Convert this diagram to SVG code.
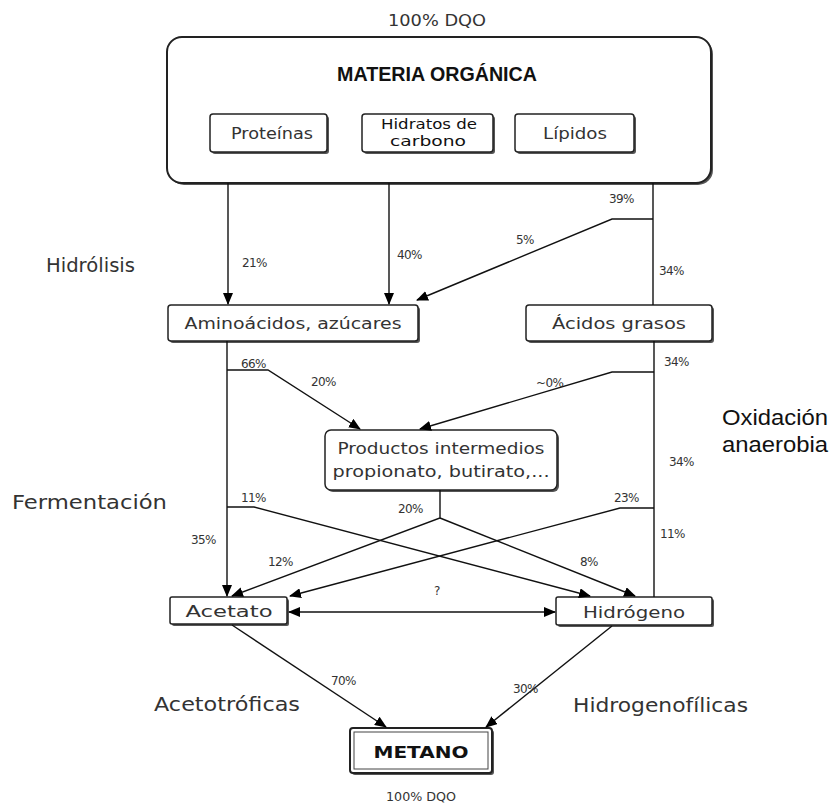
<svg xmlns="http://www.w3.org/2000/svg" width="834" height="806" viewBox="0 0 834 806">
<defs>
<marker id="ah" markerWidth="12" markerHeight="10" refX="11" refY="5" orient="auto" markerUnits="userSpaceOnUse">
<path d="M0,0 L12,5 L0,10 Z" fill="#000"/>
</marker>
<marker id="ahs" markerWidth="12" markerHeight="10" refX="1" refY="5" orient="auto" markerUnits="userSpaceOnUse">
<path d="M12,0 L0,5 L12,10 Z" fill="#000"/>
</marker>
<style>
.box{fill:#fff;stroke:#222;stroke-width:1.5}
.sh{fill:#555}
.t{font-family:"DejaVu Sans","Liberation Sans",sans-serif;fill:#333;text-anchor:middle}
.n{font-size:16px}
.p{font-family:"DejaVu Sans","Liberation Sans",sans-serif;font-size:12px;fill:#333;letter-spacing:-0.6px}
.lab{font-family:"DejaVu Sans","Liberation Sans",sans-serif;font-size:19px;fill:#333}
.ar{font-family:"Liberation Sans",Arial,sans-serif;font-size:22px;fill:#111}
.c{fill:none;stroke:#111;stroke-width:1.4}
</style>
</defs>
<rect width="834" height="806" fill="#fff"/>

<text class="t" x="437" y="26" style="font-size:16px" textLength="98" lengthAdjust="spacingAndGlyphs">100% DQO</text>

<g id="materia">
<rect class="sh" x="169" y="39" width="544" height="146" rx="15"/>
<rect class="box" x="167" y="37" width="544" height="146" rx="15" style="stroke-width:2"/>
<text x="437" y="81" style="font-family:'Liberation Sans',Arial,sans-serif;font-size:21px;font-weight:bold;fill:#111;text-anchor:middle" textLength="200" lengthAdjust="spacingAndGlyphs">MATERIA ORGÁNICA</text>
</g>
<g id="proteinas">
<rect class="sh" x="212" y="116" width="117" height="38" rx="3"/>
<rect class="box" x="210" y="114" width="117" height="38" rx="3"/>
<text class="t n" x="272" y="139" textLength="82" lengthAdjust="spacingAndGlyphs">Proteínas</text>
</g>
<g id="hidratos">
<rect class="sh" x="364" y="116" width="131" height="38" rx="3"/>
<rect class="box" x="362" y="114" width="131" height="38" rx="3"/>
<text class="t" x="429" y="129" style="font-size:14px;fill:#111" textLength="96" lengthAdjust="spacingAndGlyphs">Hidratos de</text>
<text class="t" x="428" y="146" style="font-size:14px;fill:#111" textLength="76" lengthAdjust="spacingAndGlyphs">carbono</text>
</g>
<g id="lipidos">
<rect class="sh" x="517" y="116" width="119" height="38" rx="3"/>
<rect class="box" x="515" y="114" width="119" height="38" rx="3"/>
<text class="t n" x="575" y="139" textLength="64" lengthAdjust="spacingAndGlyphs">Lípidos</text>
</g>

<g id="aminoacidos">
<rect class="sh" x="170" y="307" width="250" height="36" rx="3"/>
<rect class="box" x="168" y="305" width="250" height="36" rx="3"/>
<text class="t n" x="293" y="329" textLength="217" lengthAdjust="spacingAndGlyphs">Aminoácidos, azúcares</text>
</g>
<g id="acidos">
<rect class="sh" x="528" y="307" width="186" height="36" rx="3"/>
<rect class="box" x="526" y="305" width="186" height="36" rx="3"/>
<text class="t n" x="619" y="329" textLength="134" lengthAdjust="spacingAndGlyphs">Ácidos grasos</text>
</g>
<g id="productos">
<rect class="sh" x="327" y="432" width="232" height="60" rx="6"/>
<rect class="box" x="325" y="430" width="232" height="60" rx="6"/>
<text class="t n" x="441" y="454" textLength="207" lengthAdjust="spacingAndGlyphs">Productos intermedios</text>
<text class="t n" x="441" y="477" textLength="217" lengthAdjust="spacingAndGlyphs">propionato, butirato,...</text>
</g>
<g id="acetato">
<rect class="sh" x="172" y="599" width="117" height="27" rx="2"/>
<rect class="box" x="170" y="597" width="117" height="27" rx="2"/>
<text class="t n" x="229" y="617" textLength="87" lengthAdjust="spacingAndGlyphs">Acetato</text>
</g>
<g id="hidrogeno">
<rect class="sh" x="558" y="599" width="156" height="28" rx="2"/>
<rect class="box" x="556" y="597" width="156" height="28" rx="2"/>
<text class="t n" x="634" y="618" textLength="102" lengthAdjust="spacingAndGlyphs">Hidrógeno</text>
</g>
<g id="metano">
<rect class="sh" x="352" y="730" width="142" height="45" rx="3"/>
<rect class="box" x="350" y="728" width="142" height="45" rx="3" style="stroke-width:2"/>
<rect x="354" y="732" width="134" height="37" fill="none" stroke="#444" stroke-width="1"/>
<text x="421" y="758" style="font-family:'DejaVu Sans',sans-serif;font-size:16px;font-weight:bold;fill:#111;text-anchor:middle" textLength="95" lengthAdjust="spacingAndGlyphs">METANO</text>
</g>
<text class="t" x="421" y="801" style="font-size:13px" textLength="70" lengthAdjust="spacingAndGlyphs">100% DQO</text>

<g id="connectors">
<line class="c" x1="228" y1="183" x2="228" y2="304" marker-end="url(#ah)"/>
<line class="c" x1="389" y1="183" x2="389" y2="304" marker-end="url(#ah)"/>
<line class="c" x1="653" y1="183" x2="653" y2="305"/>
<polyline class="c" points="653,219 612,219 417,300" marker-end="url(#ah)"/>

<line class="c" x1="227" y1="341" x2="227" y2="596" marker-end="url(#ah)"/>
<polyline class="c" points="227,370 268,370 360,429" marker-end="url(#ah)"/>
<line class="c" x1="654" y1="341" x2="654" y2="597"/>
<polyline class="c" points="654,372 612,372 420,429" marker-end="url(#ah)"/>

<polyline class="c" points="440,490 440,518 232,596" marker-end="url(#ah)"/>
<polyline class="c" points="440,518 635,596" marker-end="url(#ah)"/>
<polyline class="c" points="227,507 254,507 590,596" marker-end="url(#ah)"/>
<polyline class="c" points="654,508 620,508 290,596" marker-end="url(#ah)"/>

<line class="c" x1="289" y1="612" x2="555" y2="612" marker-start="url(#ahs)" marker-end="url(#ah)"/>

<line class="c" x1="232" y1="625" x2="386" y2="727" marker-end="url(#ah)"/>
<line class="c" x1="612" y1="626" x2="486" y2="727" marker-end="url(#ah)"/>
</g>

<g id="labels">
<text class="p" x="242" y="267">21%</text>
<text class="p" x="397" y="259">40%</text>
<text class="p" x="609" y="203">39%</text>
<text class="p" x="516" y="244">5%</text>
<text class="p" x="659" y="275">34%</text>
<text class="p" x="241" y="368">66%</text>
<text class="p" x="311" y="386">20%</text>
<text class="p" x="664" y="366">34%</text>
<text class="p" x="536" y="387">~0%</text>
<text class="p" x="669" y="466">34%</text>
<text class="p" x="241" y="502">11%</text>
<text class="p" x="398" y="513">20%</text>
<text class="p" x="614" y="502">23%</text>
<text class="p" x="660" y="538">11%</text>
<text class="p" x="191" y="544">35%</text>
<text class="p" x="268" y="566">12%</text>
<text class="p" x="580" y="566">8%</text>
<text class="p" x="434" y="595">?</text>
<text class="p" x="331" y="685">70%</text>
<text class="p" x="513" y="693">30%</text>
<text class="lab" x="46" y="272" textLength="89" lengthAdjust="spacingAndGlyphs">Hidrólisis</text>
<text class="lab" x="12" y="509" textLength="155" lengthAdjust="spacingAndGlyphs">Fermentación</text>
<text class="lab" x="154" y="711" textLength="146" lengthAdjust="spacingAndGlyphs">Acetotróficas</text>
<text class="lab" x="573" y="712" textLength="175" lengthAdjust="spacingAndGlyphs">Hidrogenofílicas</text>
<text class="ar" x="722" y="425" textLength="106" lengthAdjust="spacingAndGlyphs">Oxidación</text>
<text class="ar" x="722" y="452" textLength="106" lengthAdjust="spacingAndGlyphs">anaerobia</text>
</g>
</svg>
